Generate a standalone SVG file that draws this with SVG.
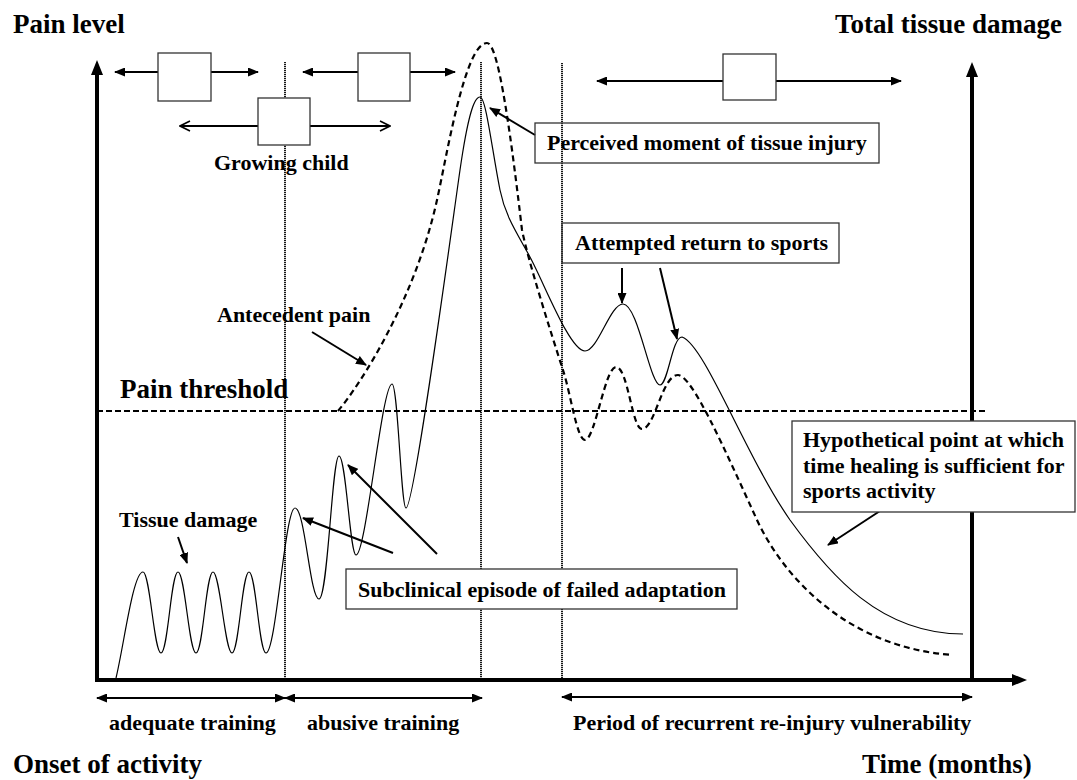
<svg xmlns="http://www.w3.org/2000/svg" width="1077" height="780" viewBox="0 0 1077 780">
<defs>
<marker id="fa" viewBox="0 0 11 9" refX="10" refY="4.5" markerWidth="11" markerHeight="9" markerUnits="userSpaceOnUse" orient="auto-start-reverse"><path d="M0,0 L11,4.5 L0,9 z" fill="#000"/></marker>
<marker id="oa" viewBox="0 0 12 12" refX="11" refY="6" markerWidth="12" markerHeight="12" markerUnits="userSpaceOnUse" orient="auto-start-reverse"><path d="M1,1 L11,6 L1,11" fill="none" stroke="#000" stroke-width="1.6"/></marker>
</defs>
<style>
.lg{font-family:"Liberation Serif","Times New Roman",serif;font-weight:bold;font-size:27px;fill:#000}
.md{font-family:"Liberation Serif","Times New Roman",serif;font-weight:bold;font-size:22px;fill:#000}
.box{fill:#fff;stroke:#333;stroke-width:1.3}
.boxn{fill:none;stroke:#333;stroke-width:1.3}
.conn{stroke:#000;stroke-width:2;fill:none;marker-end:url(#fa)}
.oconn{stroke:#000;stroke-width:2;fill:none;marker-end:url(#oa)}
.dbl{stroke:#000;stroke-width:2;fill:none;marker-start:url(#fa);marker-end:url(#fa)}
.vdot{stroke:#000;stroke-width:1.8;stroke-dasharray:1.2 0.8;fill:none}
.axis{stroke:#000;stroke-width:4;fill:none}
.thr{stroke:#000;stroke-width:2;stroke-dasharray:6 3;fill:none}
.solid{stroke:#000;stroke-width:1.2;fill:none}
.dash{stroke:#000;stroke-width:2.2;stroke-dasharray:6 4;fill:none}
</style>
<rect width="1077" height="780" fill="#fff"/>

<g id="grid">
<path class="vdot" d="M285,62 V680 M481,62 V680 M562,63 V680"/>
<path class="thr" d="M97,411 H986"/>
</g>

<g id="axes">
<path class="axis" d="M97,682 V72 M95,680 H1014 M972,682 V74"/>
<polygon points="97,60 91,75 103,75"/>
<polygon points="1027,680 1012,674 1012,686"/>
<polygon points="972,62 966,77 978,77"/>
</g>

<g id="curves">
<path class="solid" d="M116,678 C124,645 133,572 143,572 C150,572 154,653 161,653 C168,653 171,572 178,572 C185,572 189,653 196,653 C203,653 206,572 213,572 C220,572 225,653 232,653 C239,653 242,572 249,572 C256,572 259,653 266,653 C276,653 285,508 295,508 C305,508 310,599 319,599 C328,599 332,456 339,456 C346,456 350,555 356,555 C366,555 382,384 392,384 C398,384 401,508 406,508 C414,508 450,240 460,170 C468,115 474,97 480,97 C486,97 492,150 500,190 C505,215 515,230 530,257 C545,285 570,351 585,351 C598,351 610,304 623,304 C638,304 650,385 660,385 C668,385 672,337 682,337 C705,345 745,455 790,520 C830,575 880,634 963,634"/>
<path class="dash" d="M338,411 C360,385 415,300 437,200 C447,155 465,43 487,43 C497,43 508,110 522,230 C528,260 550,330 563,370 C571,395 577,440 585,440 C595,440 605,367 616,367 C628,367 632,429 642,429 C655,429 662,375 678,375 C692,375 725,450 757,520 C785,580 850,648 953,655"/>
</g>

<g id="connectors">
<path class="conn" d="M158,72 H115"/>
<path class="conn" d="M211,72 H258"/>
<path class="conn" d="M358,72 H303"/>
<path class="conn" d="M410,72 H455"/>
<path class="oconn" d="M258,126 H180"/>
<path class="oconn" d="M310,126 H390"/>
<path class="conn" d="M723,81 H597"/>
<path class="conn" d="M776,81 H901"/>
<path class="conn" d="M535,135 L490,108"/>
<path class="conn" d="M622,268 V303"/>
<path class="conn" d="M660,268 L677,339"/>
<path class="conn" d="M312,332 L366,365"/>
<path class="conn" d="M178,537 L187,563"/>
<path class="conn" d="M393,553 L303,518"/>
<path class="conn" d="M437,554 L348,465"/>
<path class="conn" d="M883,509 L828,545"/>
<path class="dbl" d="M97,698 H285"/>
<path class="dbl" d="M285,698 H482"/>
<path class="dbl" d="M562,697 H972"/>
</g>

<g id="box1"><rect class="box" x="158" y="53" width="53" height="48"/></g>
<g id="box2"><rect class="box" x="358" y="53" width="52" height="48"/></g>
<g id="box3"><rect class="box" x="258" y="98" width="52" height="47"/></g>
<g id="box4"><rect class="box" x="723" y="54" width="53" height="46"/></g>

<g id="perceived"><rect class="boxn" x="535" y="123" width="344" height="40"/><text class="md" x="547" y="150">Perceived moment of tissue injury</text></g>
<g id="attempted"><rect class="boxn" x="562" y="223" width="277" height="40"/><text class="md" x="575" y="250">Attempted return to sports</text></g>
<g id="subclinical"><rect class="box" x="346" y="569" width="391" height="40"/><text class="md" x="358" y="597">Subclinical episode of failed adaptation</text></g>
<g id="hypothetical"><rect class="box" x="792" y="421" width="283" height="91"/>
<text class="md" x="803" y="447">Hypothetical point at which</text>
<text class="md" x="803" y="473">time healing is sufficient for</text>
<text class="md" x="803" y="498">sports activity</text></g>

<g id="labels">
<text class="lg" x="13" y="33">Pain level</text>
<text class="lg" x="1062" y="33" text-anchor="end">Total tissue damage</text>
<text class="lg" x="120" y="398">Pain threshold</text>
<text class="lg" x="13" y="773">Onset of activity</text>
<text class="lg" x="862" y="773">Time (months)</text>
<text class="md" x="214" y="170">Growing child</text>
<text class="md" x="217" y="322">Antecedent pain</text>
<text class="md" x="119" y="527">Tissue damage</text>
<text class="md" x="109" y="730">adequate training</text>
<text class="md" x="307" y="730">abusive training</text>
<text class="md" x="573" y="730">Period of recurrent re-injury vulnerability</text>
</g>
</svg>
